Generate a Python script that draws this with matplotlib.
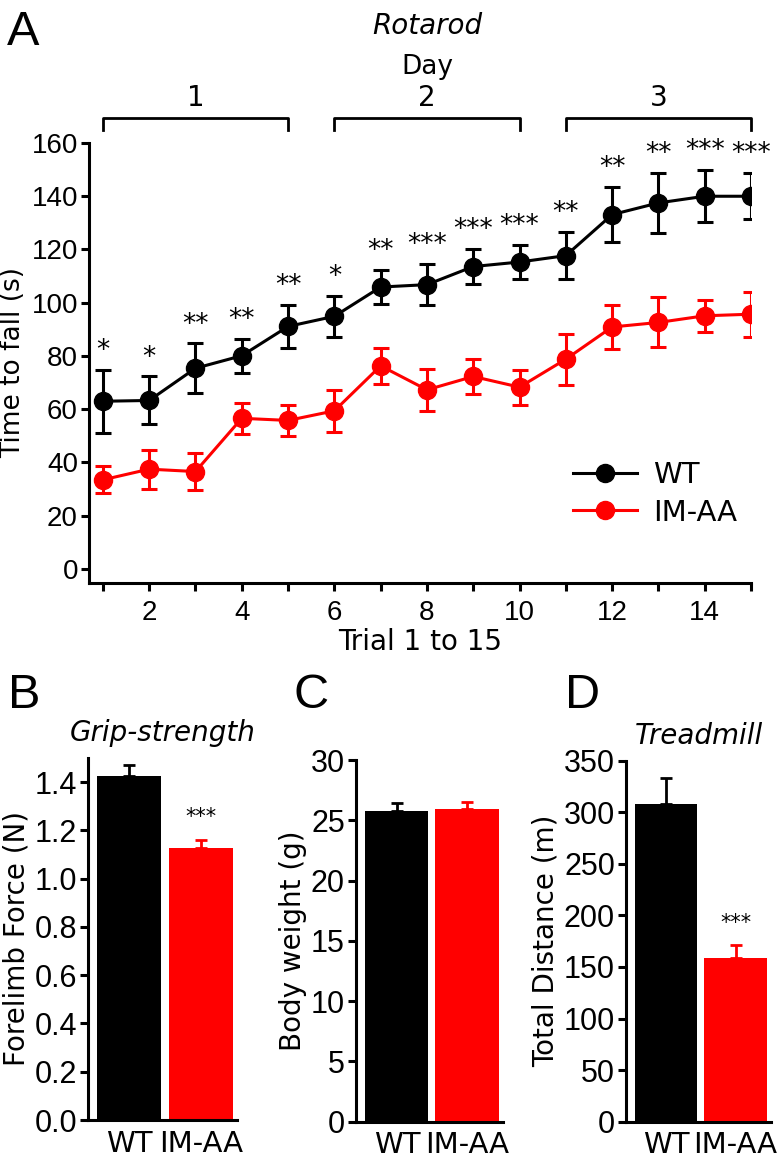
import numpy as np
import matplotlib
matplotlib.use("Agg")
import matplotlib.pyplot as plt
from matplotlib.lines import Line2D

# Rotarod, trials 1..15
trials = np.arange(1, 16)
wt_mean = [63, 63.3, 75.4, 80.1, 91.1, 94.9, 105.9, 106.8, 113.6, 115.3, 117.7, 133.1, 137.5, 140, 140]
wt_err = [11.8, 9, 9.3, 6.4, 8, 7.8, 6.5, 7.8, 6.5, 6.4, 8.8, 10.2, 11.2, 9.7, 8.6]
imaa_mean = [33.5, 37.5, 36.6, 56.6, 55.8, 59.4, 76.3, 67.3, 72.3, 68.3, 78.8, 90.9, 92.6, 95.1, 95.7]
imaa_err = [5, 7.3, 7.1, 5.9, 5.7, 7.8, 6.8, 7.8, 6.5, 6.6, 9.6, 8.2, 9.4, 5.9, 8.5]
stars = ['*', '*', '**', '**', '**', '*', '**', '***', '***', '***', '**', '**', '**', '***', '***']
days = ['1', '2', '3']
day_first = [1, 6, 11]
day_last = [5, 10, 15]

# bar panels
groups = ['WT', 'IM-AA']
grip = [1.424, 1.129]
grip_err = [0.045, 0.033]
weight = [25.8, 25.9]
weight_err = [0.6, 0.6]
distance = [307.8, 158.5]
distance_err = [25, 12.9]

W, H = 784, 1160
LAB = 'DejaVu Sans'
NUM = 'Liberation Sans'
colors = ['black', '#ff0000']

plt.rcParams['font.family'] = NUM

fig = plt.figure(figsize=(W / 100, H / 100), dpi=100)


def px_box(left, top, right, bottom):
    return [left / W, 1 - bottom / H, (right - left) / W, (bottom - top) / H]


def style_axes(ax, fs):
    ax.spines['top'].set_visible(False)
    ax.spines['right'].set_visible(False)
    for s in ['left', 'bottom']:
        ax.spines[s].set_linewidth(2.2)
    ax.tick_params(axis='y', width=2.2, length=6, labelsize=fs, pad=2)


# ---------------- A : Rotarod ----------------
axA = fig.add_axes(px_box(89, 143, 751, 583))
axA.errorbar(trials, wt_mean, yerr=wt_err, color=colors[0], marker='o', ms=13,
             lw=2.2, elinewidth=2.2, capsize=6, capthick=2.2, zorder=3)
axA.errorbar(trials, imaa_mean, yerr=imaa_err, color=colors[1], marker='o', ms=13,
             lw=2.2, elinewidth=2.2, capsize=6, capthick=2.2, zorder=3)
axA.set_xlim(0.7, 15)
axA.set_ylim(-5.26, 160)
axA.set_yticks(np.arange(0, 161, 20))
axA.set_xticks(np.arange(2, 15, 2))
axA.set_xticks(np.arange(1, 16, 2), minor=True)
style_axes(axA, 20)
axA.tick_params(axis='x', which='both', width=2.2, length=6, labelsize=20, pad=6)
axA.set_ylabel('Time to fall (s)', family=LAB, fontsize=19, labelpad=4)
axA.set_xlabel('Trial 1 to 15', family=LAB, fontsize=20, labelpad=2)

for t, m, e, s in zip(trials, wt_mean, wt_err, stars):
    axA.text(t, m + e + 4.5, s, ha='center', va='baseline', fontsize=19,
             family=LAB, clip_on=False)

for d, a, b in zip(days, day_first, day_last):
    axA.plot([a, a, b, b], [165, 169.5, 169.5, 165], color='black', lw=2,
             clip_on=False)
    axA.text((a + b) / 2, 177, d, ha='center', va='center', fontsize=20,
             family=LAB, clip_on=False)
axA.text(8, 188.5, 'Day', ha='center', va='center', fontsize=19, family=LAB,
         clip_on=False)
axA.text(8, 204, 'Rotarod', ha='center', va='center', fontsize=20, family=LAB,
         style='italic', clip_on=False)

handles = [Line2D([], [], color=c, marker='o', ms=13, lw=2.2) for c in colors]
axA.legend(handles, groups, loc='center left', bbox_to_anchor=(573 / W, 1 - 494 / H),
           bbox_transform=fig.transFigure, frameon=False, prop={'family': LAB, 'size': 21},
           handlelength=2.2, handletextpad=0.55, labelspacing=0.32,
           borderpad=0, borderaxespad=0)

# ---------------- B, C, D : bars ----------------
panels = [
    (px_box(88, 758, 237, 1120), grip, grip_err, 1.5, np.arange(0, 1.41, 0.2),
     'Forelimb Force (N)', 'Grip-strength', True),
    (px_box(356, 760, 503, 1121.7), weight, weight_err, 30, np.arange(0, 31, 5),
     'Body weight (g)', None, False),
    (px_box(626, 760.7, 771, 1121.7), distance, distance_err, 350, np.arange(0, 351, 50),
     'Total Distance (m)', 'Treadmill', True),
]

for box, vals, errs, top, yt, ylab, title, sig in panels:
    ax = fig.add_axes(box)
    x = np.arange(len(groups))
    ax.bar(x, vals, width=0.9, color=colors, zorder=2)
    for i in range(len(groups)):
        ax.errorbar(x[i], vals[i], yerr=[[0], [errs[i]]], fmt='none', ecolor=colors[i],
                    elinewidth=2, capsize=4.5, capthick=2, zorder=1)
    ax.set_xlim(-0.58, 1.51)
    ax.set_ylim(0, top)
    ax.set_yticks(yt)
    if top < 5:
        ax.set_yticklabels(['%.1f' % v for v in yt])
    ax.set_xticks(x)
    ax.set_xticklabels(groups, family=LAB, fontsize=21)
    style_axes(ax, 22)
    ax.tick_params(axis='x', length=0, pad=7)
    ax.set_ylabel(ylab, family=LAB, fontsize=20, labelpad=3)
    if title:
        ax.set_title(title, family=LAB, fontsize=20, style='italic', pad=12)
    if sig:
        ax.text(1, vals[1] + errs[1] + top * 0.045, '***', ha='center', va='baseline',
                fontsize=15, family=LAB)

# panel letters
for letter, lx, base in [('A', 7, 45), ('B', 8, 708), ('C', 293, 708), ('D', 565, 708)]:
    fig.text(lx / W, 1 - base / H, letter, fontsize=35, family=NUM, va='baseline')

fig.savefig('out.png', dpi=100)
